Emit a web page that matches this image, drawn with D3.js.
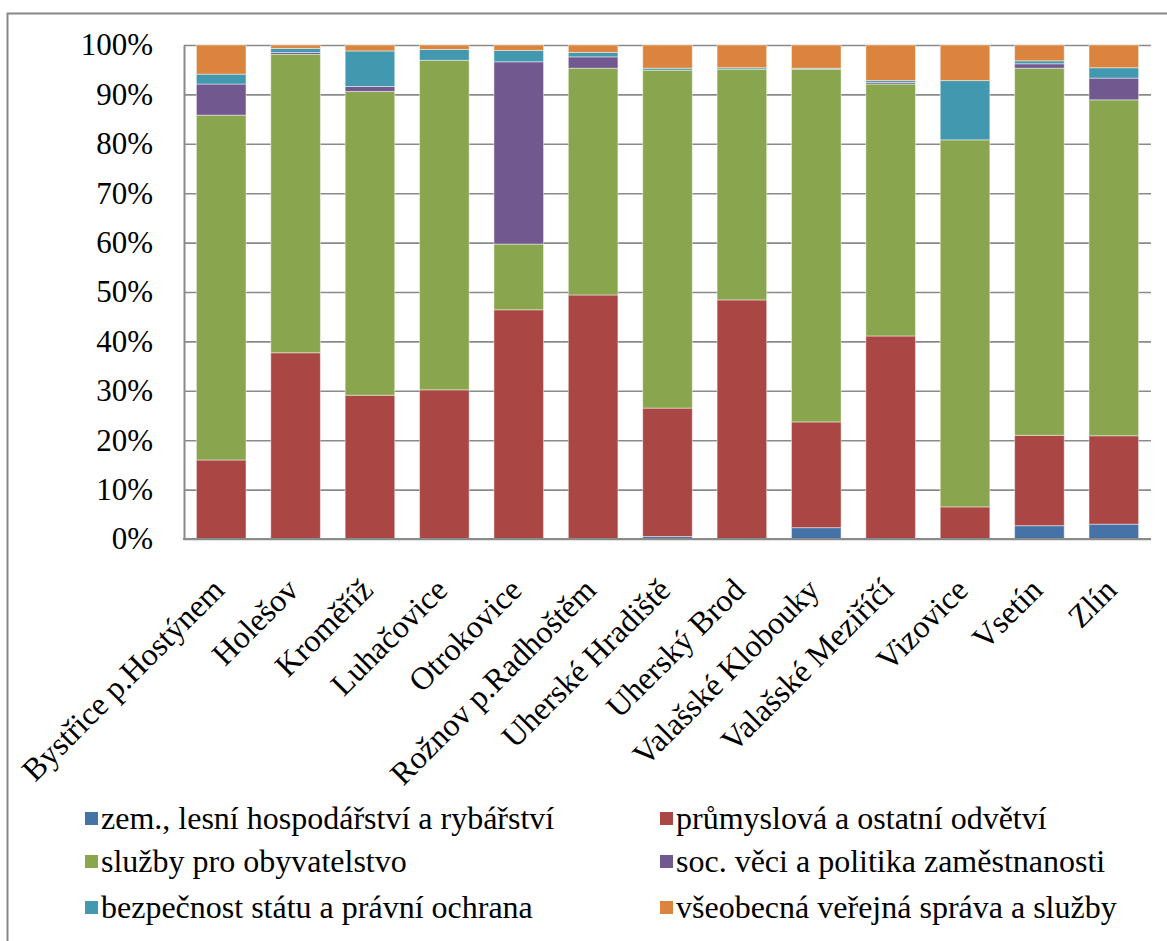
<!DOCTYPE html>
<html lang="cs">
<head>
<meta charset="utf-8">
<script src="https://cdn.jsdelivr.net/npm/d3@7"></script>
<style>
  html, body { margin: 0; padding: 0; background: #fff; }
</style>
</head>
<body>
<svg id="chart" width="1167" height="941"></svg>
<script>
// Obce (správní obvody) na ose x
const categories = [
  "Bystřice p.Hostýnem", "Holešov", "Kroměříž", "Luhačovice", "Otrokovice",
  "Rožnov p.Radhoštěm", "Uherské Hradiště", "Uherský Brod", "Valašské Klobouky",
  "Valašské Meziříčí", "Vizovice", "Vsetín", "Zlín"
];

// Podíly jednotlivých odvětví (v %)
const zemedelstvi = [0, 0, 0, 0, 0, 0, 0.5, 0, 2.3, 0, 0, 2.7, 3.0];
const prumysl     = [16.0, 37.7, 29.1, 30.2, 46.4, 49.4, 26.0, 48.4, 21.4, 41.1, 6.5, 18.3, 17.9];
const sluzby      = [69.8, 60.4, 61.5, 66.7, 13.3, 45.9, 68.4, 46.7, 71.4, 51.0, 74.3, 74.3, 68.0];
const socVeci     = [6.3, 0.4, 1.0, 0, 36.9, 2.3, 0, 0, 0, 0.3, 0, 0.9, 4.4];
const bezpecnost  = [2.0, 0.8, 7.2, 2.2, 2.3, 0.9, 0.4, 0.3, 0.2, 0.4, 12.0, 0.6, 2.1];
const vseobecna   = [5.9, 0.7, 1.2, 0.9, 1.1, 1.5, 4.7, 4.6, 4.7, 7.2, 7.2, 3.2, 4.6];

const seriesNames = [
  "zem., lesní hospodářství a rybářství",
  "průmyslová a ostatní odvětví",
  "služby pro obyvatelstvo",
  "soc. věci a politika zaměstnanosti",
  "bezpečnost státu a právní ochrana",
  "všeobecná veřejná správa a služby"
];
const seriesValues = [zemedelstvi, prumysl, sluzby, socVeci, bezpecnost, vseobecna];
const seriesColors = ["#4572A7", "#AA4643", "#89A54E", "#71588F", "#4198AF", "#DB843D"];

const yTicks = [0, 10, 20, 30, 40, 50, 60, 70, 80, 90, 100];

const FONT = '"Liberation Serif", "Times New Roman", serif';
const svg = d3.select("#chart");
const W = 1167, H = 941;

// vnější rámeček grafu
svg.append("rect")
  .attr("x", 7.5).attr("y", 13.5)
  .attr("width", W).attr("height", H)
  .attr("fill", "none").attr("stroke", "#878787").attr("stroke-width", 2);

const plot = { left: 184, right: 1151, top: 45, bottom: 539 };

const x = d3.scaleBand()
  .domain(categories)
  .range([plot.left, plot.right])
  .paddingInner(1 / 3)
  .paddingOuter(1 / 6);

const y = d3.scaleLinear().domain([0, 100]).range([plot.bottom, plot.top]);

// mřížka
svg.append("g")
  .attr("transform", `translate(${plot.left},0)`)
  .call(d3.axisLeft(y).tickValues(yTicks).tickSize(-(plot.right - plot.left)).tickFormat(""))
  .call(g => g.select(".domain").remove())
  .call(g => g.selectAll("line").attr("stroke", "#8a8a8a").attr("stroke-width", 1.6));

// data pro skládání
const rows = categories.map((c, i) => {
  const r = { category: c };
  seriesNames.forEach((s, k) => { r[s] = seriesValues[k][i]; });
  return r;
});
const stacked = d3.stack().keys(seriesNames)(rows);

svg.append("g").selectAll("g")
  .data(stacked)
  .join("g")
  .attr("fill", (d, k) => seriesColors[k])
  .selectAll("rect")
  .data(d => d)
  .join("rect")
  .attr("x", d => x(d.data.category))
  .attr("width", x.bandwidth())
  .attr("y", d => y(d[1]))
  .attr("height", d => Math.max(0, y(d[0]) - y(d[1])))
  .attr("stroke", "rgba(255,255,255,0.45)")
  .attr("stroke-width", 1);

// osa y s popisky
svg.append("g")
  .attr("transform", `translate(${plot.left},0)`)
  .call(d3.axisLeft(y).tickValues(yTicks).tickSize(0).tickPadding(31).tickFormat(d => d + "%"))
  .call(g => g.attr("font-family", null).attr("font-size", null))
  .call(g => g.select(".domain").attr("stroke", "#8a8a8a").attr("stroke-width", 2))
  .call(g => g.selectAll("text")
    .style("font-family", FONT)
    .style("font-size", "31px")
    .attr("fill", "#000"));

// osa x
svg.append("line")
  .attr("x1", plot.left - 1).attr("x2", plot.right)
  .attr("y1", plot.bottom).attr("y2", plot.bottom)
  .attr("stroke", "#8a8a8a").attr("stroke-width", 2);

svg.append("g").selectAll("text")
  .data(categories)
  .join("text")
  .attr("transform", d => `translate(${x(d) + x.bandwidth() / 2 - 11},576) rotate(-45)`)
  .attr("text-anchor", "end")
  .attr("dy", "0.7em")
  .style("font-family", FONT)
  .style("font-size", "32px")
  .attr("fill", "#000")
  .text(d => d);

// legenda
const legendPos = [
  [85, 818], [660, 818],
  [85, 861], [660, 861],
  [85, 907], [660, 907]
];
const legend = svg.append("g").selectAll("g")
  .data(seriesNames)
  .join("g")
  .attr("transform", (d, k) => `translate(${legendPos[k][0]},${legendPos[k][1]})`);
legend.append("rect")
  .attr("x", 0).attr("y", -6).attr("width", 13).attr("height", 13)
  .attr("fill", (d, k) => seriesColors[k]);
legend.append("text")
  .attr("x", 16).attr("dy", "0.33em")
  .style("font-family", FONT)
  .style("font-size", "32px")
  .attr("fill", "#000")
  .text(d => d);
</script>
</body>
</html>
